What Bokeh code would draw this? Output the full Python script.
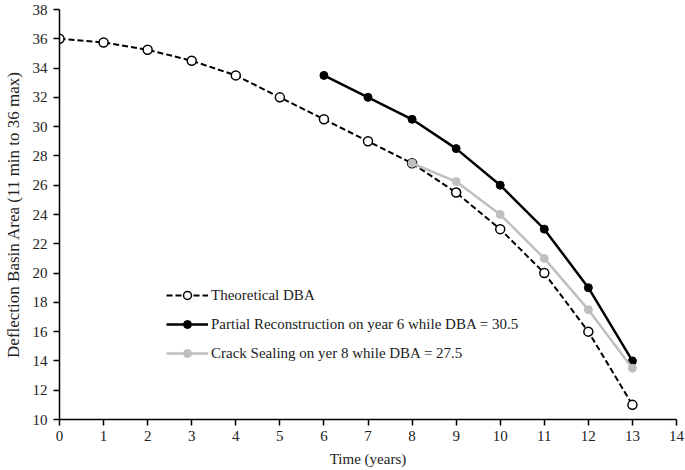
from bokeh.plotting import figure
from bokeh.models import Range1d, FixedTicker, Legend, LegendItem
from bokeh.embed import file_html
from bokeh.resources import INLINE

years_theo = [0, 1, 2, 3, 4, 5, 6, 7, 8, 9, 10, 11, 12, 13]
dba_theo = [36, 35.75, 35.25, 34.5, 33.5, 32, 30.5, 29, 27.5, 25.5, 23, 20, 16, 11]
years_partial = [6, 7, 8, 9, 10, 11, 12, 13]
dba_partial = [33.5, 32, 30.5, 28.5, 26, 23, 19, 14]
years_crack = [8, 9, 10, 11, 12, 13]
dba_crack = [27.5, 26.25, 24, 21, 17.5, 13.5]

FONT = "Liberation Serif"

p = figure(width=684, height=469, output_backend="svg", toolbar_location=None,
           x_range=Range1d(0, 14), y_range=Range1d(10, 38),
           min_border_left=58, min_border_right=8, min_border_top=9, min_border_bottom=50)
p.outline_line_color = None
p.xgrid.visible = False
p.ygrid.visible = False

for ax in (p.xaxis[0], p.yaxis[0]):
    ax.axis_line_color = "black"
    ax.axis_line_width = 1.5
    ax.major_tick_line_color = "black"
    ax.major_tick_line_width = 1.5
    ax.major_tick_out = 6
    ax.major_tick_in = 0
    ax.minor_tick_line_color = None
    ax.major_label_text_font = FONT
    ax.major_label_text_font_size = "15px"
    ax.major_label_text_color = "#222222"
    ax.axis_label_text_font = FONT
    ax.axis_label_text_font_style = "normal"
    ax.axis_label_text_color = "#222222"

p.xaxis.axis_label_text_font_size = "15px"
p.yaxis.axis_label_text_font_size = "17px"
p.xaxis.ticker = FixedTicker(ticks=list(range(0, 15)))
p.yaxis.ticker = FixedTicker(ticks=list(range(10, 39, 2)))
p.xaxis.axis_label = "Time (years)"
p.yaxis.axis_label = "Deflection Basin Area (11 min to 36 max)"
p.xaxis.axis_label_standoff = 7
p.yaxis.axis_label_standoff = 7
p.xaxis.major_label_standoff = 5
p.yaxis.major_label_standoff = 6

l1 = p.line(years_theo, dba_theo, line_color="black", line_width=2, line_dash="6 3")
s1 = p.scatter(years_theo, dba_theo, marker="circle", size=9, line_color="black",
               line_width=1.5, fill_color="white")
l2 = p.line(years_partial, dba_partial, line_color="black", line_width=2.5)
s2 = p.scatter(years_partial, dba_partial, marker="circle", size=8, line_color="black",
               fill_color="black")
l3 = p.line(years_crack, dba_crack, line_color="#bfbfbf", line_width=2.5)
s3 = p.scatter(years_crack, dba_crack, marker="circle", size=8, line_color="#bfbfbf",
               fill_color="#bfbfbf")

legend = Legend(items=[
    LegendItem(label="Theoretical DBA", renderers=[l1, s1]),
    LegendItem(label="Partial Reconstruction on year 6 while DBA = 30.5", renderers=[l2, s2]),
    LegendItem(label="Crack Sealing on yer 8 while DBA = 27.5", renderers=[l3, s3]),
], location=(107, 56))
legend.border_line_color = None
legend.background_fill_alpha = 0
legend.label_text_font = FONT
legend.label_text_font_size = "15px"
legend.label_text_color = "#222222"
legend.glyph_width = 42
legend.glyph_height = 20
legend.spacing = 9
legend.padding = 2
legend.label_standoff = 3
p.add_layout(legend, "center")

open("out.html", "w").write(file_html(p, INLINE))
